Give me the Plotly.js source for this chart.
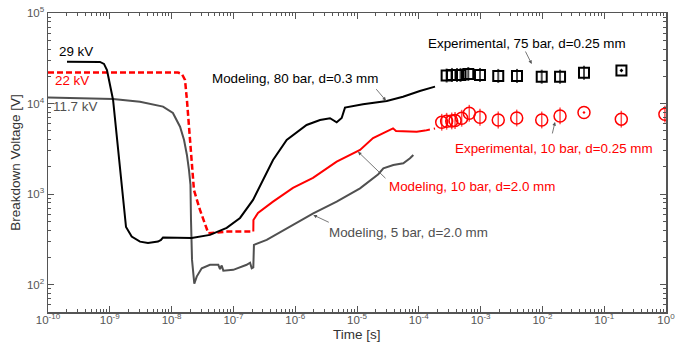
<!DOCTYPE html>
<html>
<head>
<meta charset="utf-8">
<script src="https://cdn.plot.ly/plotly-3.0.1.min.js"></script>
<style>html,body{margin:0;padding:0;background:#fff;}#chart{width:683px;height:343px;}</style>
</head>
<body>
<div id="chart"></div>
<script>
// Modeling, 80 bar, d=0.3 mm (29 kV)
const m80_t = [2.03e-10, 6.93e-10, 8.05e-10, 9.0e-10, 1.13e-9, 1.31e-9, 1.56e-9, 1.70e-9, 1.83e-9, 2.26e-9, 3.08e-9, 4.15e-9, 6.03e-9, 6.74e-9, 7.27e-9, 2.11e-8, 4.18e-8, 7.79e-8, 1.28e-7, 2.08e-7, 3.01e-7, 4.38e-7, 7.28e-7, 1.53e-6, 2.52e-6, 3.66e-6, 4.69e-6, 5.65e-6, 6.39e-6, 1.25e-5, 3.03e-5, 5.55e-5, 1.04e-4, 1.83e-4];
const m80_v = [29000, 28800, 27400, 23500, 10960, 3960, 1435, 670, 434, 340, 299, 289, 300, 312, 333, 329, 355, 424, 546, 863, 1435, 2380, 3960, 5810, 6590, 6890, 6220, 6930, 9020, 9820, 10700, 11920, 13770, 15380];

// Modeling, 10 bar, d=2.0 mm (22 kV) - dashed early part
const m10a_t = [1e-10, 1.27e-8, 1.47e-8, 1.65e-8, 1.77e-8, 1.98e-8, 2.19e-8, 2.30e-8, 2.88e-8, 3.93e-8, 7.79e-8, 2.10e-7];
const m10a_v = [22000, 22000, 21200, 18200, 10960, 3960, 1850, 1110, 670, 370, 386, 386];
// solid part
const m10b_t = [2.10e-7, 2.11e-7, 2.50e-7, 4.38e-7, 9.2e-7, 1.94e-6, 4.69e-6, 1.12e-5, 1.82e-5, 3.03e-5, 3.83e-5, 4.28e-5, 9.25e-5, 1.26e-4];
const m10b_v = [386, 519, 620, 826, 1170, 1510, 2290, 3080, 4170, 4900, 5330, 4990, 4900, 5030];
// dashed tail
const m10c_t = [1.26e-4, 1.83e-4];
const m10c_v = [5030, 5310];

// Modeling, 5 bar, d=2.0 mm (11.7 kV)
const m5_t = [1e-10, 1.13e-9, 3.08e-9, 7.27e-9, 1.05e-8, 1.37e-8, 1.59e-8, 1.77e-8, 1.91e-8, 2.02e-8, 2.06e-8, 2.14e-8, 2.33e-8, 2.55e-8, 3.07e-8, 4.18e-8, 5.70e-8, 6.07e-8, 6.47e-8, 6.87e-8, 9.96e-8, 1.64e-7, 1.86e-7, 1.98e-7, 2.10e-7, 2.15e-7, 3.46e-7, 8.24e-7, 1.96e-6, 4.69e-6, 1.12e-5, 2.21e-5, 2.67e-5, 3.87e-5, 5.61e-5, 7.21e-5, 8.15e-5];
const m5_v = [11700, 11250, 10500, 9250, 7870, 5560, 3960, 2710, 1850, 1265, 519, 188, 103, 123, 152, 166, 166, 149, 163, 143, 146, 166, 175, 152, 155, 275, 312, 438, 615, 826, 1160, 1660, 1930, 2100, 2190, 2490, 2710];

// Experimental, 75 bar, d=0.25 mm
const e75_t = [2.82e-4, 3.44e-4, 4.15e-4, 4.73e-4, 6.32e-4, 9.77e-4, 1.93e-3, 3.88e-3, 9.75e-3, 1.93e-2, 4.71e-2, 0.19];
const e75_v = [20400, 20700, 20700, 20700, 21200, 20700, 20200, 20200, 19800, 19800, 21900, 23200];
const e75_dot = [false, false, false, false, false, false, false, false, false, false, false, true];

// Experimental, 10 bar, d=0.25 mm
const e10_t = [2.35e-4, 2.82e-4, 3.41e-4, 3.86e-4, 4.94e-4, 6.56e-4, 9.77e-4, 1.93e-3, 3.84e-3, 9.75e-3, 1.93e-2, 4.71e-2, 0.189, 0.96];
const e10_v = [6220, 6380, 6430, 6500, 6890, 7820, 7060, 6590, 6930, 6590, 7300, 7980, 6730, 7640];
const e10_dot = [false, false, false, false, false, false, false, false, false, false, false, true, false, false];

const xTickVals = [1e-10, 1e-9, 1e-8, 1e-7, 1e-6, 1e-5, 1e-4, 1e-3, 1e-2, 1e-1, 1];
const xTickText = ['10<sup>-10</sup>', '10<sup>-9</sup>', '10<sup>-8</sup>', '10<sup>-7</sup>', '10<sup>-6</sup>', '10<sup>-5</sup>', '10<sup>-4</sup>', '10<sup>-3</sup>', '10<sup>-2</sup>', '10<sup>-1</sup>', '10<sup>0</sup>'];
const yTickVals = [1e2, 1e3, 1e4, 1e5];
const yTickText = ['10<sup>2</sup>', '10<sup>3</sup>', '10<sup>4</sup>', '10<sup>5</sup>'];

function minorVals(lo, hi) {
  const out = [];
  for (let e = lo; e < hi; e++) for (let k = 2; k <= 9; k++) out.push(k * Math.pow(10, e));
  return out;
}

const RED = '#ff0000', GRAY = '#505050', BLACK = '#000000';
const FONT = 'Liberation Sans, Arial, Helvetica, sans-serif';
const LSIZE = 13.4;

const traces = [
  {x: m5_t, y: m5_v, mode: 'lines', line: {color: GRAY, width: 2}},
  {x: m10a_t, y: m10a_v, mode: 'lines', line: {color: RED, width: 2.5, dash: '6px,3px'}},
  {x: m10b_t, y: m10b_v, mode: 'lines', line: {color: RED, width: 2}},
  {x: m10c_t, y: m10c_v, mode: 'lines', line: {color: RED, width: 2, dash: '5px,4px'}},
  {x: m80_t, y: m80_v, mode: 'lines', line: {color: BLACK, width: 2}},
  {x: e75_t, y: e75_v, mode: 'markers',
   marker: {symbol: e75_dot.map(d => d ? 'square-open-dot' : 'square-open'), size: 10, color: BLACK, line: {color: BLACK, width: 2}}},
  {x: e75_t, y: e75_v, mode: 'markers',
   marker: {symbol: 'line-ns-open', size: e75_dot.map(d => d ? 0 : 10), color: BLACK, line: {color: BLACK, width: 2}}},
  {x: e10_t, y: e10_v, mode: 'markers',
   marker: {symbol: e10_dot.map(d => d ? 'circle-open-dot' : 'circle-open'), size: 12, color: RED, line: {color: RED, width: 1.5}}},
  {x: e10_t, y: e10_v, mode: 'markers',
   marker: {symbol: 'line-ns-open', size: e10_dot.map(d => d ? 0 : 12), color: RED, line: {color: RED, width: 1.5}}}
];

function label(text, lx, ly, color) {
  return {text: text, x: lx, y: ly, xref: 'x', yref: 'y', xanchor: 'left', yanchor: 'middle',
          showarrow: false, font: {family: FONT, size: LSIZE, color: color}};
}
function arrow(hx, hy, ax, ay) {
  return {text: '', x: hx, y: hy, xref: 'x', yref: 'y', ax: ax, ay: ay, showarrow: true,
          arrowhead: 2, arrowsize: 0.9, arrowwidth: 0.8, arrowcolor: '#555555', standoff: 0, startstandoff: 0};
}

const annotations = [
  label('29 kV', -9.850, 4.570, BLACK),
  label('22 kV', -9.915, 4.253, RED),
  label('11.7 kV', -9.950, 3.968, GRAY),
  label('Modeling, 80 bar, d=0.3 mm', -7.375, 4.275, BLACK),
  label('Experimental, 75 bar, d=0.25 mm', -3.880, 4.663, BLACK),
  label('Experimental, 10 bar, d=0.25 mm', -3.445, 3.507, RED),
  label('Modeling, 10 bar, d=2.0 mm', -4.510, 3.083, RED),
  label('Modeling, 5 bar, d=2.0 mm', -5.480, 2.575, GRAY),
  arrow(-4.531, 4.032, -11, -13),
  arrow(-2.173, 4.437, -7, -14),
  arrow(-1.796, 3.797, -3, 13),
  arrow(-4.984, 3.469, 29, 28),
  arrow(-5.707, 2.770, 17, 8),
  // x-axis title
  {text: 'Time [s]', xref: 'paper', yref: 'paper', x: 0.5, y: -0.1037, xanchor: 'center', yanchor: 'bottom',
   showarrow: false, borderpad: 0, font: {family: FONT, size: 13.5, color: '#333333'}}
];

const axisCommon = {
  type: 'log', showgrid: false, zeroline: false, showline: true, linecolor: '#555555', linewidth: 1.5,
  mirror: 'allticks', ticks: 'inside', ticklen: 6, tickcolor: '#555555', tickwidth: 1,
  tickmode: 'array', tickfont: {family: FONT, size: 11.5, color: '#555555'}
};

const layout = {
  width: 683, height: 343,
  margin: {l: 48, r: 17, t: 13, b: 31},
  paper_bgcolor: '#ffffff', plot_bgcolor: '#ffffff',
  showlegend: false,
  font: {family: FONT},
  xaxis: Object.assign({}, axisCommon, {
    range: [-10, 0], tickvals: xTickVals, ticktext: xTickText, ticklabelstandoff: -3,
    minor: {tickmode: 'array', tickvals: minorVals(-10, 0), ticks: 'inside', ticklen: 3, tickcolor: '#555555', tickwidth: 1}
  }),
  yaxis: Object.assign({}, axisCommon, {
    range: [Math.log10(50), 5], tickvals: yTickVals, ticktext: yTickText,
    minor: {tickmode: 'array', tickvals: minorVals(1, 5).filter(v => v >= 50), ticks: 'inside', ticklen: 3, tickcolor: '#555555', tickwidth: 1},
    title: {text: 'Breakdown Voltage [V]', font: {family: FONT, size: 13.5, color: '#333333'}, standoff: 3}
  }),
  annotations: annotations
};

Plotly.newPlot('chart', traces, layout, {displayModeBar: false, staticPlot: true});
</script>
</body>
</html>
